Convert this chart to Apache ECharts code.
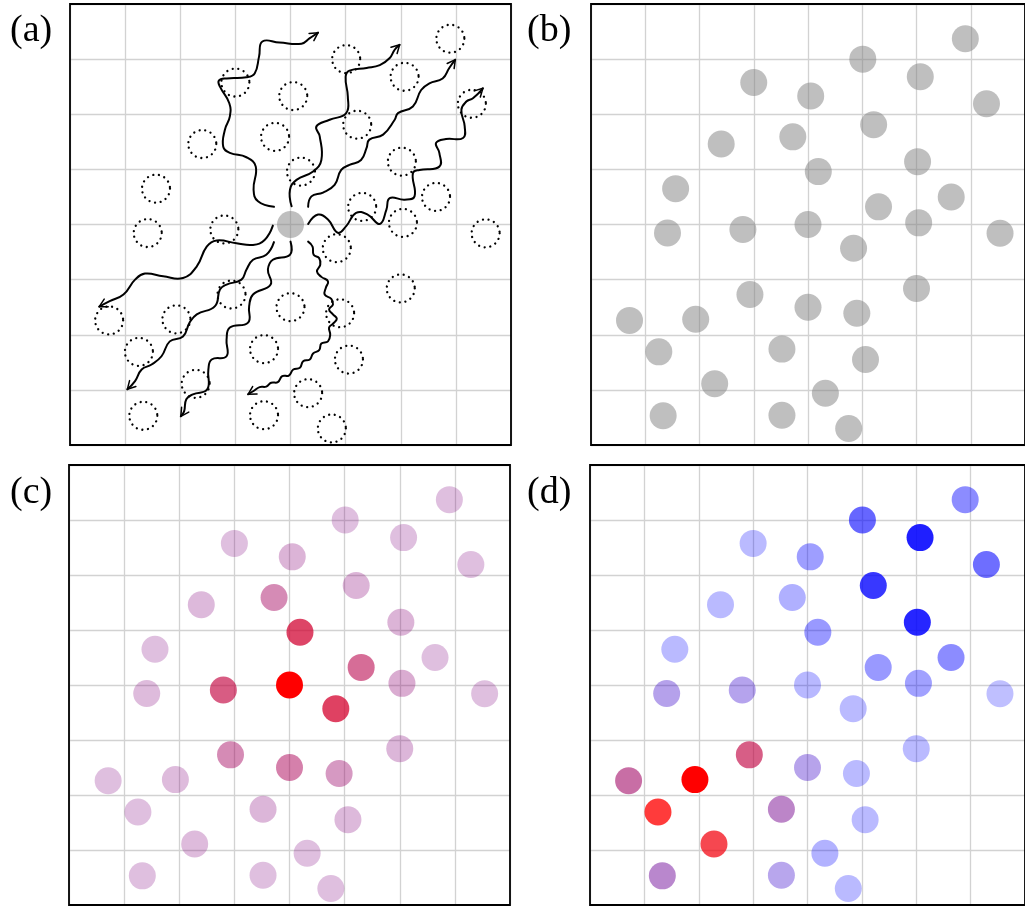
<!DOCTYPE html>
<html>
<head>
<meta charset="utf-8">
<script src="https://cdn.jsdelivr.net/npm/echarts@6/dist/echarts.min.js"></script>
<style>
  html, body { margin: 0; padding: 0; background: #fff; }
  #chart { width: 1025px; height: 906px; }
</style>
</head>
<body>
<div id="chart"></div>
<script>
// Site positions on the 8 x 8 lattice (same sites in every panel)
const siteX = [6.90, 5.01, 6.07, 3.00, 4.05, 7.29, 5.21, 3.72, 2.40, 6.02, 4.19, 1.56, 6.64, 5.30, 1.41, 2.80, 4.00,
               6.04, 7.54, 4.84, 2.93, 6.00, 4.00, 4.90, 0.71, 1.93, 1.25, 3.52, 5.06, 2.28, 4.32, 1.33, 3.52, 4.75];
const siteY = [7.37, 7.00, 6.68, 6.575, 6.33, 6.19, 5.81, 5.59, 5.46, 5.14, 4.96, 4.65, 4.50, 4.32, 3.845, 3.91, 4.00,
               4.03, 3.84, 3.57, 2.73, 2.84, 2.50, 2.39, 2.26, 2.28, 1.69, 1.74, 1.55, 1.11, 0.94, 0.53, 0.54, 0.30];
// the emitting site
const sourceIndex = 16;

// (c) coupling weight of each site to the source (0 = none, 1 = source)
const cWeight = [0, 0, 0, 0, 0.06, 0, 0.06, 0.27, 0.03, 0.06, 0.64, 0, 0, 0.43, 0.02, 0.52, 1,
                 0.1, 0, 0.66, 0.27, 0.05, 0.33, 0.2, 0, 0.02, 0, 0.05, 0.03, 0.02, 0, 0, 0, 0];

// (d) red share and opacity of each site
const dRed = [0, 0, 0, 0, 0, 0, 0, 0, 0, 0, 0, 0, 0, 0, 0.21, 0.2, 0,
              0, 0, 0, 0.75, 0, 0.22, 0, 0.62, 1, 1, 0.45, 0, 0.95, 0, 0.42, 0.2, 0];
const dAlpha = [0.45, 0.6, 0.88, 0.27, 0.38, 0.57, 0.78, 0.31, 0.27, 0.85, 0.4, 0.27, 0.45, 0.4, 0.37, 0.36, 0.28,
                0.37, 0.25, 0.27, 0.63, 0.27, 0.36, 0.27, 0.57, 1, 0.77, 0.48, 0.27, 0.72, 0.3, 0.47, 0.35, 0.27];

// Random-walk trajectories leaving the source, in lattice units (last point = arrow tip)
const walkPaths = [
  [[3.70,4.32],[3.41,4.42],[3.33,4.63],[3.37,5.05],[3.20,5.22],[2.90,5.30],[2.78,5.41],[2.81,5.72],[2.90,5.96],
   [2.89,6.20],[2.72,6.50],[2.70,6.61],[2.84,6.65],[3.20,6.67],[3.35,6.74],[3.43,7.05],[3.49,7.32],[3.80,7.30],
   [4.20,7.28],[4.35,7.38],[4.50,7.48]],
  [[4.02,4.33],[3.99,4.63],[4.11,4.81],[4.41,4.96],[4.56,5.17],[4.53,5.60],[4.47,5.78],[4.71,5.90],[5.01,6.02],
   [5.04,6.32],[5.00,6.68],[5.07,6.79],[5.38,6.84],[5.62,6.89],[5.80,7.02],[5.89,7.17],[5.98,7.26]],
  [[4.32,4.32],[4.38,4.51],[4.59,4.58],[4.80,4.72],[4.92,4.99],[5.07,5.08],[5.28,5.17],[5.38,5.39],[5.43,5.54],
   [5.68,5.63],[5.89,5.90],[5.95,6.02],[6.22,6.14],[6.37,6.44],[6.52,6.56],[6.76,6.65],[6.88,6.84],[6.99,6.99]],
  [[4.32,4.01],[4.50,4.18],[4.68,4.09],[4.86,3.85],[5.01,3.97],[5.19,4.21],[5.40,4.18],[5.62,4.01],[5.74,4.27],
   [5.80,4.48],[6.07,4.45],[6.25,4.51],[6.22,4.93],[6.34,4.99],[6.70,5.05],[6.70,5.30],[6.64,5.48],[6.82,5.55],
   [7.13,5.57],[7.16,5.78],[7.10,6.08],[7.19,6.23],[7.31,6.29],[7.49,6.47]],
  [[3.68,3.98],[3.53,3.72],[3.32,3.63],[3.02,3.66],[2.66,3.71],[2.48,3.60],[2.30,3.24],[2.05,3.03],[1.69,3.06],
   [1.36,3.11],[1.18,3.00],[0.97,2.73],[0.72,2.61],[0.53,2.51]],
  [[3.70,3.68],[3.56,3.45],[3.32,3.36],[3.20,3.18],[3.11,3.00],[2.84,2.91],[2.72,2.82],[2.63,2.52],[2.30,2.37],
   [2.17,2.22],[2.05,1.97],[1.81,1.88],[1.66,1.61],[1.48,1.46],[1.30,1.37],[1.18,1.16],[1.04,1.01]],
  [[4.00,3.69],[3.99,3.45],[3.68,3.36],[3.59,3.18],[3.64,2.91],[3.32,2.73],[3.25,2.52],[3.23,2.22],[2.90,2.13],
   [2.84,1.91],[2.84,1.61],[2.57,1.55],[2.51,1.37],[2.49,1.01],[2.23,0.92],[2.11,0.83],[2.07,0.61],[2.01,0.52]],
  [[4.32,3.69],[4.40,3.60],[4.42,3.45],[4.52,3.39],[4.54,3.27],[4.48,3.15],[4.56,3.05],[4.68,2.97],[4.64,2.85],
   [4.62,2.73],[4.74,2.65],[4.77,2.55],[4.70,2.46],[4.77,2.37],[4.84,2.29],[4.77,2.20],[4.70,2.13],[4.72,2.00],
   [4.68,1.88],[4.56,1.84],[4.52,1.72],[4.41,1.66],[4.35,1.55],[4.23,1.52],[4.17,1.40],[4.05,1.37],[3.97,1.26],
   [3.85,1.25],[3.77,1.14],[3.65,1.13],[3.56,1.06],[3.44,1.05],[3.33,0.98],[3.23,0.92]]
];

const panelLabels = ['(a)', '(b)', '(c)', '(d)'];

// Panel frames in pixels
const panels = [
  { left: 70,  top: 4,   width: 441, height: 441, labelX: 10,  labelY: 34 },
  { left: 591, top: 4,   width: 441, height: 441, labelX: 527, labelY: 34 },
  { left: 69,  top: 465, width: 441, height: 440, labelX: 10,  labelY: 496 },
  { left: 590, top: 465, width: 441, height: 440, labelX: 527, labelY: 496 }
];

const GRID_LINE = '#d2d2d2';
const DOT_SIZE = 27;

const grids = panels.map(p => ({
  left: p.left, top: p.top, width: p.width, height: p.height,
  show: true, borderColor: '#000', borderWidth: 1.8, backgroundColor: 'transparent', z: 10
}));
const axisCommon = {
  min: 0, max: 8, interval: 1,
  axisLine: { show: false }, axisTick: { show: false }, axisLabel: { show: false },
  splitLine: { show: true, lineStyle: { color: GRID_LINE, width: 1.3 } }
};
const xAxes = panels.map((p, i) => Object.assign({ type: 'value', gridIndex: i }, axisCommon));
const yAxes = panels.map((p, i) => Object.assign({ type: 'value', gridIndex: i }, axisCommon));

const sites = siteX.map((x, i) => [x, siteY[i]]);

function rgba(r, g, b, a) {
  return 'rgba(' + Math.round(r) + ',' + Math.round(g) + ',' + Math.round(b) + ',' + a.toFixed(3) + ')';
}
// (c): purple (far) to red (source), more opaque with stronger coupling
function colorC(w) {
  return rgba(128 + 127 * w, 0, 128 * (1 - w), 0.25 + 0.75 * w);
}
// (d): blue to red by share, with its own opacity
function colorD(r, a) {
  return rgba(255 * r, 0, 255 * (1 - r), a);
}

const GRAY = 'rgba(128,128,128,0.5)';
const scatterBase = {
  type: 'scatter', symbol: 'circle', symbolSize: DOT_SIZE,
  silent: true, emphasis: { disabled: true }, z: 3
};

const series = [];

// (a) empty sites as dotted rings
series.push(Object.assign({}, scatterBase, {
  xAxisIndex: 0, yAxisIndex: 0, symbolSize: 28,
  data: sites.filter((s, i) => i !== sourceIndex),
  itemStyle: { color: 'rgba(0,0,0,0)', opacity: 1, borderColor: '#000', borderWidth: 2.3,
               borderType: [0.01, 5.7], borderCap: 'round' }
}));
// (a) source site
series.push(Object.assign({}, scatterBase, {
  xAxisIndex: 0, yAxisIndex: 0,
  data: [sites[sourceIndex]],
  itemStyle: { color: GRAY, opacity: 1 }
}));
// (a) random walks with arrow heads
series.push({
  type: 'custom', xAxisIndex: 0, yAxisIndex: 0, silent: true, z: 4,
  data: walkPaths.map(p => p[0]),
  encode: { x: 0, y: 1 },
  renderItem: function (params, api) {
    const pts = walkPaths[params.dataIndex].map(p => api.coord(p));
    const n = pts.length;
    const tip = pts[n - 1], prev = pts[n - 2];
    const ang = Math.atan2(tip[1] - prev[1], tip[0] - prev[0]);
    const L = 9, spread = 0.5;
    const h1 = [tip[0] - L * Math.cos(ang - spread), tip[1] - L * Math.sin(ang - spread)];
    const h2 = [tip[0] - L * Math.cos(ang + spread), tip[1] - L * Math.sin(ang + spread)];
    return {
      type: 'group',
      children: [
        { type: 'polyline', shape: { points: pts, smooth: 0.45 },
          style: { stroke: '#000', lineWidth: 2, fill: null, lineJoin: 'round', lineCap: 'round' } },
        { type: 'polyline', shape: { points: [h1, tip, h2] },
          style: { stroke: '#000', lineWidth: 1.5, fill: null, lineJoin: 'round', lineCap: 'round' } }
      ]
    };
  }
});

// (b) all sites in gray
series.push(Object.assign({}, scatterBase, {
  xAxisIndex: 1, yAxisIndex: 1,
  data: sites,
  itemStyle: { color: GRAY, opacity: 1 }
}));

// (c) coupling to the source
series.push(Object.assign({}, scatterBase, {
  xAxisIndex: 2, yAxisIndex: 2,
  data: sites.map((s, i) => ({ value: s, itemStyle: { color: colorC(cWeight[i]), opacity: 1 } }))
}));

// (d) red / blue mixture
series.push(Object.assign({}, scatterBase, {
  xAxisIndex: 3, yAxisIndex: 3,
  data: sites.map((s, i) => ({ value: s, itemStyle: { color: colorD(dRed[i], dAlpha[i]), opacity: 1 } }))
}));

const graphic = panels.map((p, i) => ({
  type: 'text', left: p.labelX, top: p.labelY - 22, silent: true,
  style: { text: panelLabels[i], font: '38px "Liberation Serif", "DejaVu Serif", serif', fill: '#000' }
}));

const chart = echarts.init(document.getElementById('chart'), null, { renderer: 'canvas' });
chart.setOption({
  animation: false,
  backgroundColor: '#fff',
  grid: grids,
  xAxis: xAxes,
  yAxis: yAxes,
  series: series,
  graphic: graphic
});
</script>
</body>
</html>
